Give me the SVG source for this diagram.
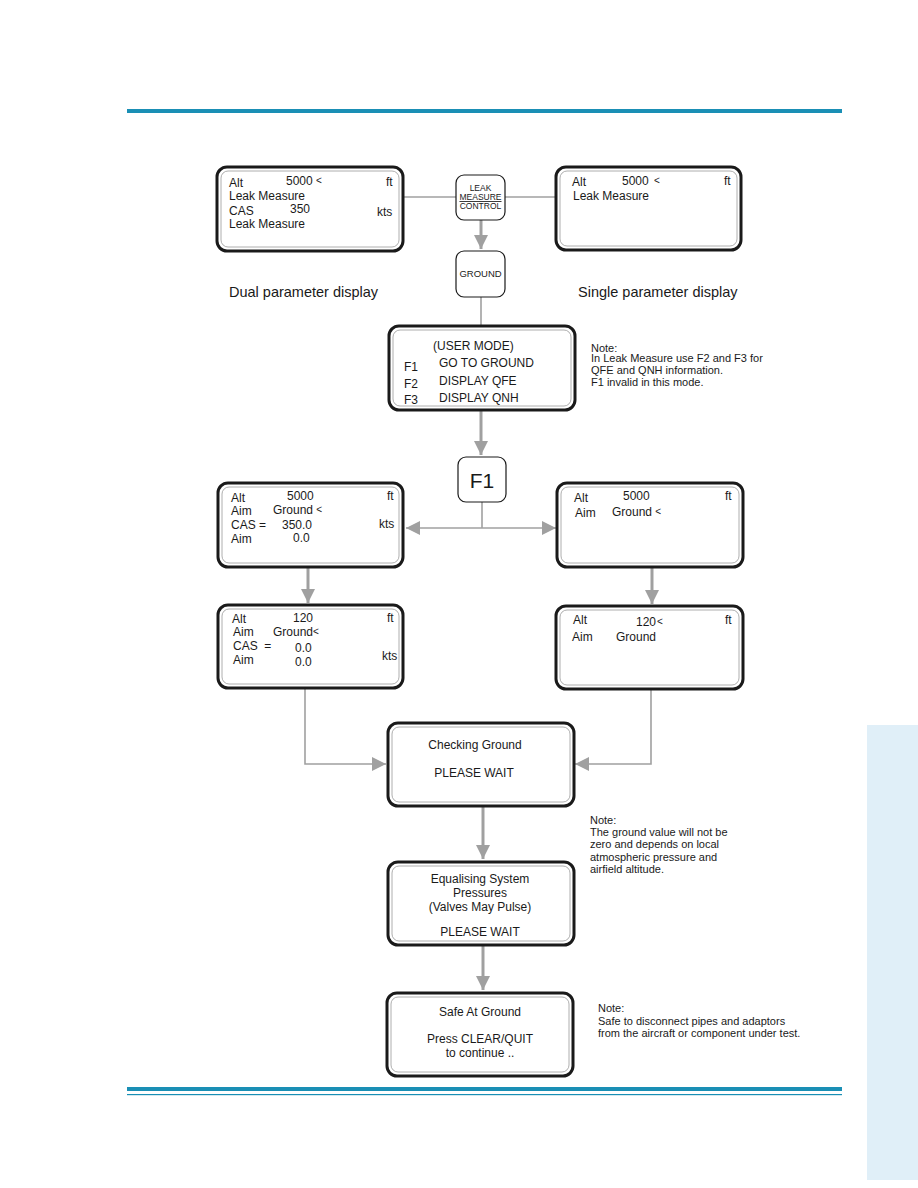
<svg xmlns="http://www.w3.org/2000/svg" width="918" height="1188" viewBox="0 0 918 1188">
<defs>
<style>
.scr{fill:#fff;stroke:#1a1a1a;stroke-width:3}
.inn{fill:none;stroke:#999;stroke-width:0.8}
.key{fill:#fff;stroke:#1a1a1a;stroke-width:1.2}
.t{font-family:"Liberation Sans",Arial,sans-serif;font-size:12px;fill:#1a1a1a}
.c{text-anchor:middle}
.n{font-family:"Liberation Sans",Arial,sans-serif;font-size:11px;fill:#1a1a1a}
.k{font-family:"Liberation Sans",Arial,sans-serif;font-size:8.5px;fill:#1a1a1a;text-anchor:middle}
.cap{font-family:"Liberation Sans",Arial,sans-serif;font-size:14.5px;fill:#1a1a1a}
.ln{fill:none;stroke:#a0a0a0;stroke-width:1.6}
.ar{fill:none;stroke:#a0a0a0;stroke-width:3}
</style>
<marker id="ah" viewBox="0 0 10 10" refX="10" refY="5" markerUnits="userSpaceOnUse" markerWidth="14" markerHeight="16" orient="auto">
<path d="M0,0 L10,5 L0,10 Z" fill="#a0a0a0"/>
</marker>
</defs>
<rect width="918" height="1188" fill="#fff"/>
<rect x="867" y="725" width="51" height="455" fill="#e0eff8"/>
<rect x="127" y="109" width="715" height="4" fill="#1a8fb5"/>
<rect x="127" y="1087" width="715" height="4" fill="#1a8fb5"/>
<rect x="127" y="1094" width="715" height="1.2" fill="#1a8fb5"/>

<g id="connectors">
<line class="ln" x1="403" y1="197" x2="456" y2="197"/>
<line class="ln" x1="505" y1="197" x2="555" y2="197"/>
<line class="ar" x1="481" y1="220" x2="481" y2="249" marker-end="url(#ah)"/>
<line class="ln" x1="481" y1="297" x2="481" y2="326" stroke-width="2"/>
<line class="ar" x1="481" y1="410" x2="481" y2="455" marker-end="url(#ah)"/>
<line class="ln" x1="482" y1="502" x2="482" y2="528"/>
<line class="ln" x1="482" y1="528" x2="406" y2="528" marker-end="url(#ah)"/>
<line class="ln" x1="482" y1="528" x2="556" y2="528" marker-end="url(#ah)"/>
<line class="ar" x1="308" y1="567" x2="308" y2="603" marker-end="url(#ah)"/>
<line class="ar" x1="652" y1="567" x2="652" y2="604" marker-end="url(#ah)"/>
<polyline class="ln" points="305,688 305,764 386,764" marker-end="url(#ah)"/>
<polyline class="ln" points="651,688 651,764 575,764" marker-end="url(#ah)"/>
<line class="ar" x1="483" y1="806" x2="483" y2="859" marker-end="url(#ah)"/>
<line class="ar" x1="483" y1="945" x2="483" y2="990" marker-end="url(#ah)"/>
</g>

<g id="dual-top">
<rect class="scr" x="217" y="167" width="186" height="84" rx="10"/>
<rect class="inn" x="221" y="171" width="178" height="76" rx="7"/>
<text class="t" x="229" y="187">Alt</text>
<text class="t" x="286" y="185">5000 <tspan font-size="10" dy="-1">&lt;</tspan></text>
<text class="t" x="386" y="186">ft</text>
<text class="t" x="229" y="200">Leak Measure</text>
<text class="t" x="229" y="215">CAS</text>
<text class="t" x="290" y="213">350</text>
<text class="t" x="377" y="216">kts</text>
<text class="t" x="229" y="228">Leak Measure</text>
</g>
<text class="cap" x="229" y="297">Dual parameter display</text>

<g id="leak-measure-control">
<rect class="key" x="456" y="175" width="49" height="45" rx="8"/>
<text class="k" x="480.5" y="191">LEAK</text>
<text class="k" x="480.5" y="200" text-decoration="underline">MEASURE</text>
<text class="k" x="480.5" y="209">CONTROL</text>
</g>

<g id="single-top">
<rect class="scr" x="556" y="167" width="185" height="83" rx="10"/>
<rect class="inn" x="560" y="171" width="177" height="75" rx="7"/>
<text class="t" x="572" y="186">Alt</text>
<text class="t" x="622" y="185">5000 <tspan font-size="10" dx="2" dy="-1">&lt;</tspan></text>
<text class="t" x="724" y="185">ft</text>
<text class="t" x="573" y="200">Leak Measure</text>
</g>
<text class="cap" x="578" y="297">Single parameter display</text>

<g id="ground-key">
<rect class="key" x="456" y="251" width="49" height="46" rx="8"/>
<text class="k" x="480.5" y="277" style="font-size:9.5px">GROUND</text>
</g>

<g id="user-mode">
<rect class="scr" x="389" y="326" width="186" height="84" rx="10"/>
<rect class="inn" x="393" y="330" width="178" height="76" rx="7"/>
<text class="t" x="433" y="350">(USER MODE)</text>
<text class="t" x="404" y="371">F1</text>
<text class="t" x="439" y="367">GO TO GROUND</text>
<text class="t" x="404" y="388">F2</text>
<text class="t" x="439" y="385">DISPLAY QFE</text>
<text class="t" x="404" y="404">F3</text>
<text class="t" x="439" y="402">DISPLAY QNH</text>
</g>
<g id="note1">
<text class="n" x="591" y="352">Note:</text>
<text class="n" x="591" y="362">In Leak Measure use F2 and F3 for</text>
<text class="n" x="591" y="374">QFE and QNH information.</text>
<text class="n" x="591" y="386">F1 invalid in this mode.</text>
</g>

<g id="f1-key">
<rect class="key" x="458" y="457" width="48" height="45" rx="8"/>
<text class="t" x="482" y="488" style="font-size:21px;text-anchor:middle">F1</text>
</g>

<g id="dual-aim">
<rect class="scr" x="218" y="483" width="185" height="84" rx="10"/>
<rect class="inn" x="222" y="487" width="177" height="76" rx="7"/>
<text class="t" x="231" y="502">Alt</text>
<text class="t" x="287" y="500">5000</text>
<text class="t" x="387" y="500">ft</text>
<text class="t" x="231" y="515">Aim</text>
<text class="t" x="273" y="514">Ground <tspan font-size="10" dy="-1">&lt;</tspan></text>
<text class="t" x="231" y="529">CAS =</text>
<text class="t" x="282" y="529">350.0</text>
<text class="t" x="379" y="528">kts</text>
<text class="t" x="231" y="543">Aim</text>
<text class="t" x="293" y="542">0.0</text>
</g>

<g id="single-aim">
<rect class="scr" x="557" y="483" width="186" height="84" rx="10"/>
<rect class="inn" x="561" y="487" width="178" height="76" rx="7"/>
<text class="t" x="574" y="502">Alt</text>
<text class="t" x="623" y="500">5000</text>
<text class="t" x="725" y="500">ft</text>
<text class="t" x="575" y="517">Aim</text>
<text class="t" x="612" y="516">Ground <tspan font-size="10" dy="-1">&lt;</tspan></text>
</g>

<g id="dual-ground">
<rect class="scr" x="218" y="605" width="185" height="83" rx="10"/>
<rect class="inn" x="222" y="609" width="177" height="75" rx="7"/>
<text class="t" x="232" y="623">Alt</text>
<text class="t" x="293" y="622">120</text>
<text class="t" x="387" y="622">ft</text>
<text class="t" x="233" y="636">Aim</text>
<text class="t" x="273" y="636">Ground<tspan font-size="10" dy="-1">&lt;</tspan></text>
<text class="t" x="233" y="650" xml:space="preserve">CAS  =</text>
<text class="t" x="295" y="652">0.0</text>
<text class="t" x="382" y="660">kts</text>
<text class="t" x="233" y="664">Aim</text>
<text class="t" x="295" y="666">0.0</text>
</g>

<g id="single-ground">
<rect class="scr" x="556" y="606" width="187" height="83" rx="10"/>
<rect class="inn" x="560" y="610" width="179" height="75" rx="7"/>
<text class="t" x="573" y="624">Alt</text>
<text class="t" x="636" y="626">120<tspan font-size="10" dx="1" dy="-1">&lt;</tspan></text>
<text class="t" x="725" y="624">ft</text>
<text class="t" x="572" y="641">Aim</text>
<text class="t" x="616" y="641">Ground</text>
</g>

<g id="checking-ground">
<rect class="scr" x="388" y="723" width="186" height="83" rx="10"/>
<rect class="inn" x="392" y="727" width="178" height="75" rx="7"/>
<text class="t c" x="475" y="749">Checking Ground</text>
<text class="t c" x="474" y="777">PLEASE WAIT</text>
</g>
<g id="note2">
<text class="n" x="590" y="824">Note:</text>
<text class="n" x="590" y="836">The ground value will not be</text>
<text class="n" x="590" y="848">zero and depends on local</text>
<text class="n" x="590" y="861">atmospheric pressure and</text>
<text class="n" x="590" y="873">airfield altitude.</text>
</g>

<g id="equalising">
<rect class="scr" x="388" y="862" width="186" height="83" rx="10"/>
<rect class="inn" x="392" y="866" width="178" height="75" rx="7"/>
<text class="t c" x="480" y="883">Equalising System</text>
<text class="t c" x="480" y="897">Pressures</text>
<text class="t c" x="480" y="911">(Valves May Pulse)</text>
<text class="t c" x="480" y="936">PLEASE WAIT</text>
</g>

<g id="safe-at-ground">
<rect class="scr" x="387" y="993" width="186" height="83" rx="10"/>
<rect class="inn" x="391" y="997" width="178" height="75" rx="7"/>
<text class="t c" x="480" y="1016">Safe At Ground</text>
<text class="t c" x="480" y="1043">Press CLEAR/QUIT</text>
<text class="t c" x="480" y="1057">to continue ..</text>
</g>
<g id="note3">
<text class="n" x="598" y="1012">Note:</text>
<text class="n" x="598" y="1025">Safe to disconnect pipes and adaptors</text>
<text class="n" x="598" y="1037">from the aircraft or component under test.</text>
</g>
</svg>
